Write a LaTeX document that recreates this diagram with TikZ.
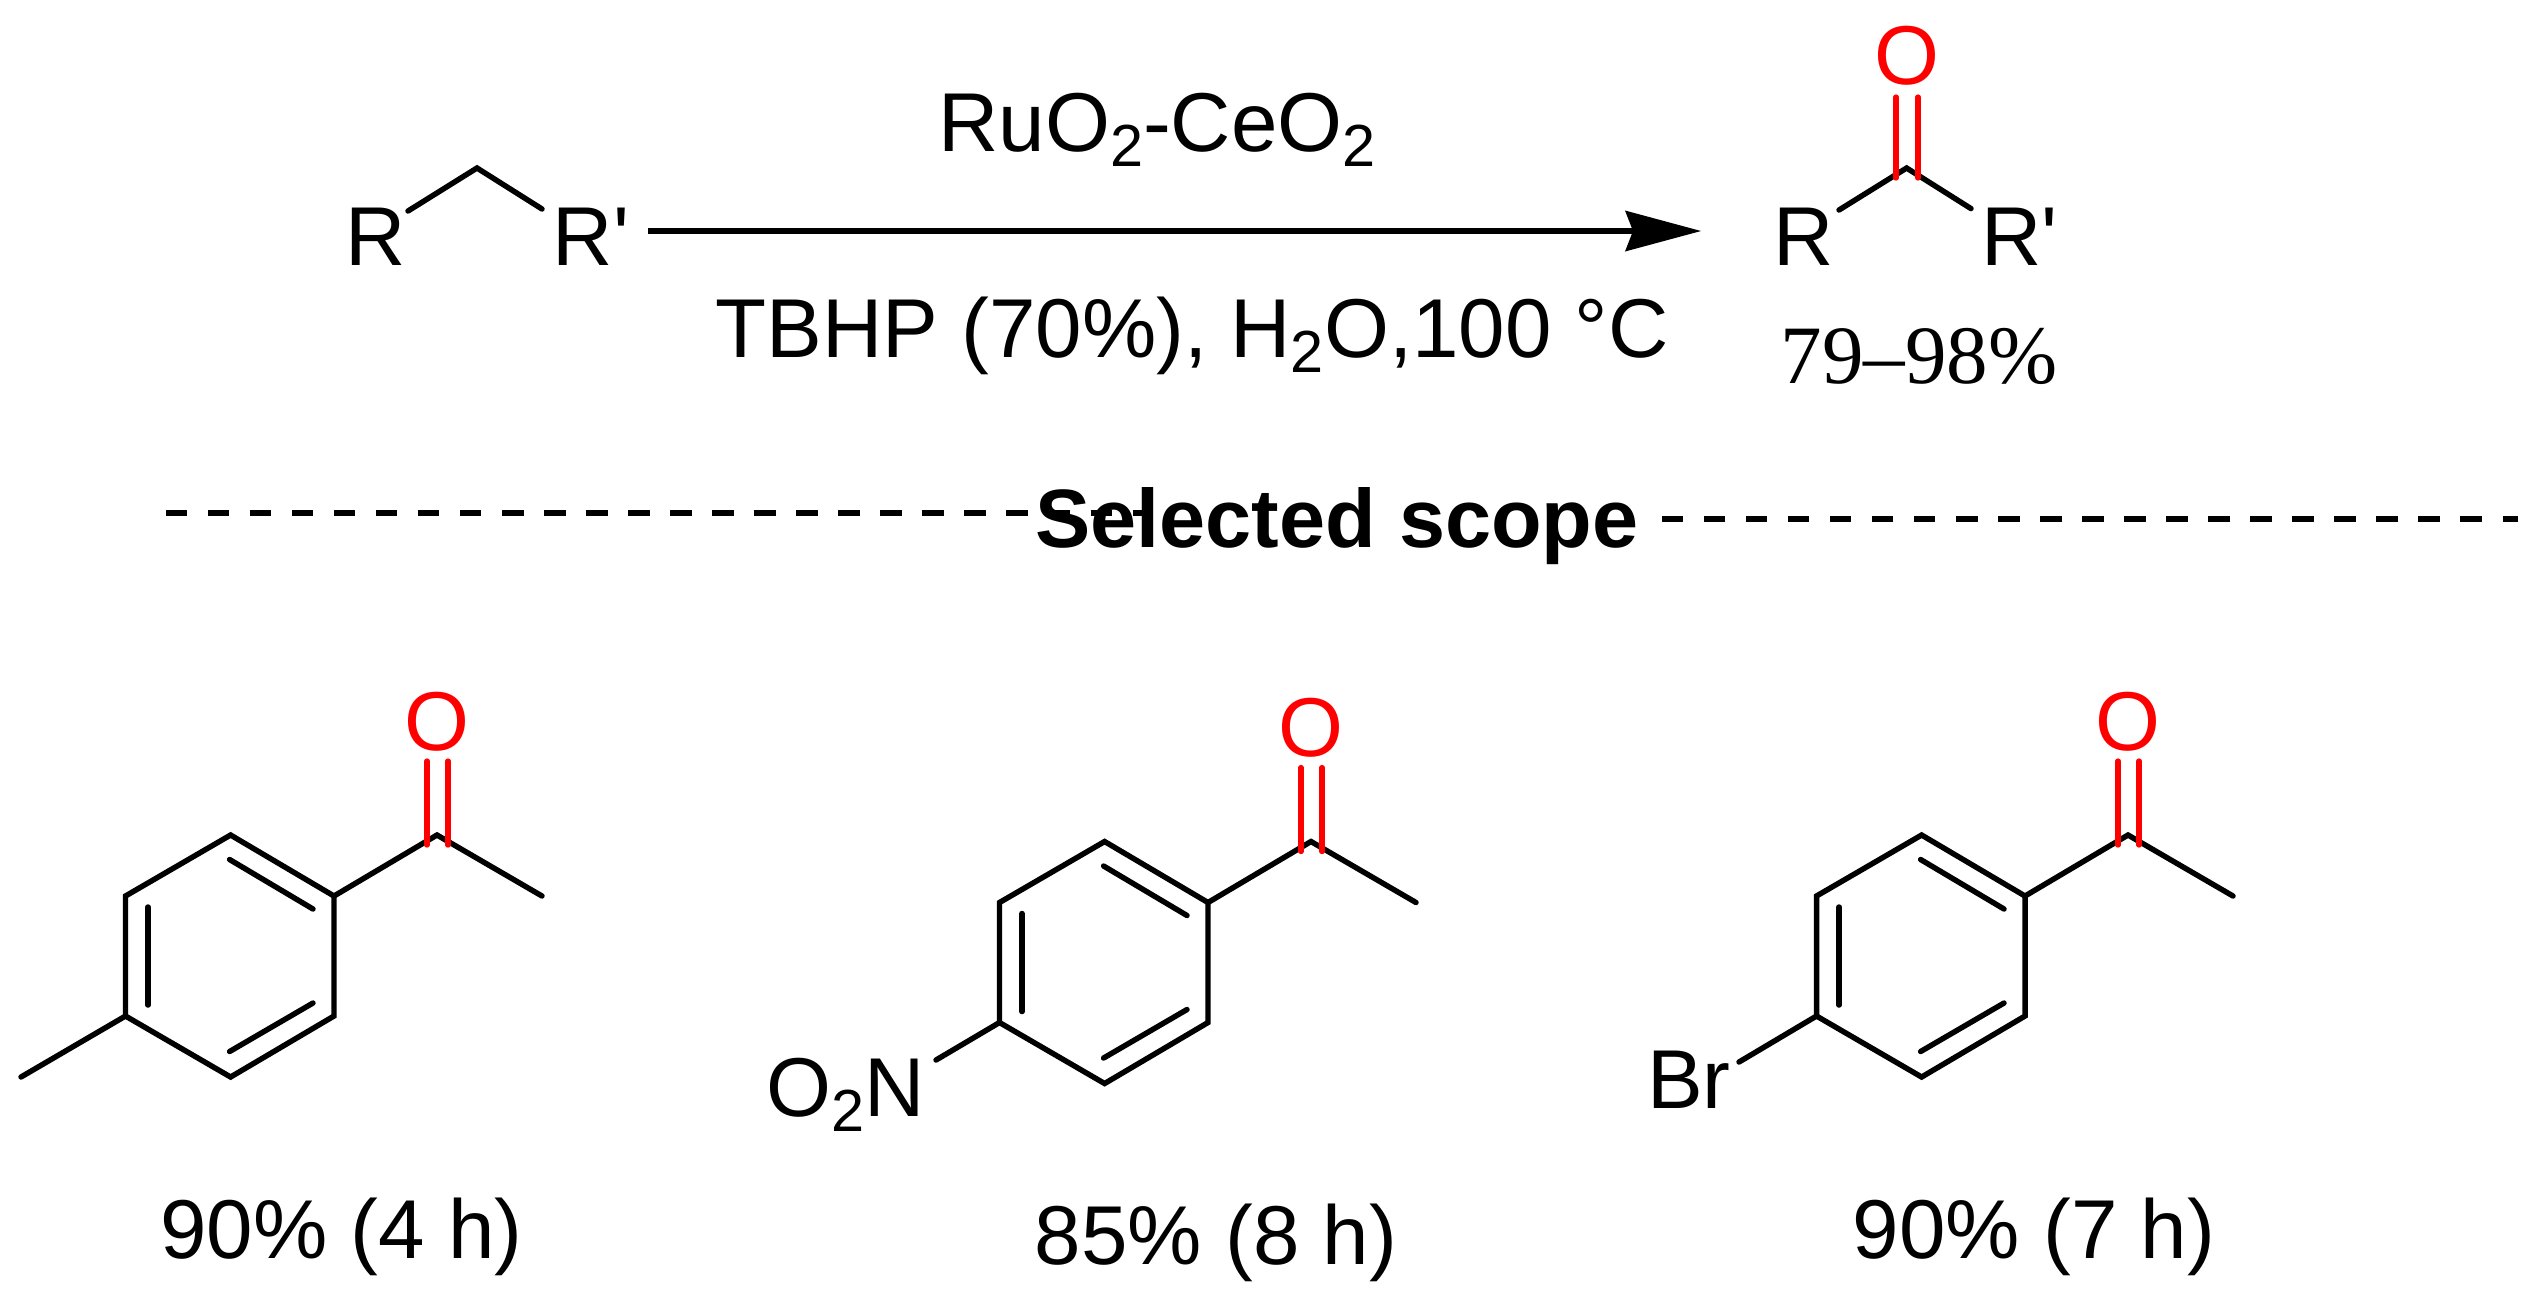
\documentclass[tikz,border=0pt]{standalone}
\usepackage{fontspec}
\setmainfont{Liberation Sans}
\newfontfamily\yieldfont{Liberation Serif}
\usetikzlibrary{arrows.meta}
\newcommand{\lowtwo}{\raisebox{-4.5pt}{\fontsize{16.9}{20}\selectfont 2}}
\tikzset{
	atom/.style={inner sep=0pt, outer sep=0pt, anchor=base, font=\fontsize{23.75}{28}\selectfont},
	bond/.style={line width=1.55pt, line cap=round, line join=miter},
	oxo/.style={line width=1.5pt, line cap=round, color=red},
	scopeline/.style={line width=1.7pt, dash pattern=on 6.06pt off 5.89pt},
	reaction/.style={line width=1.7pt, -{Stealth[length=0.76cm, width=0.41cm, inset=0.08cm, line width=0pt]}}
}
% one acetyl-aryl skeleton, #1 names it, (#2,#3) moves it
\newcommand{\acetyl}[3]{
	\begin{scope}[shift={(#2,#3)}]
		\coordinate (#1top) at (230.6,835);
		\coordinate (#1ul) at (125.5,896);
		\coordinate (#1ll) at (125.5,1016);
		\coordinate (#1bot) at (230.6,1077);
		\coordinate (#1lr) at (334,1016);
		\coordinate (#1ur) at (334,896);
		\coordinate (#1co) at (437,835);
		\coordinate (#1me) at (542,896);
		\draw[bond] (#1top) -- (#1ul) -- (#1ll) -- (#1bot) -- (#1lr) -- (#1ur) -- cycle;
		\draw[bond] (148,907) -- (148,1005);
		\draw[bond] (229.6,859.5) -- (313,909);
		\draw[bond] (229.6,1051.5) -- (313,1003);
		\draw[bond] (#1ur) -- (#1co) -- (#1me);
		\draw[oxo] (427,761) -- (427,845);
		\draw[oxo] (448,761) -- (448,845);
		\node[atom, red] (#1oxygen) at (437,750) {O};
	\end{scope}
}
\begin{document}
\begin{tikzpicture}[x=0.01cm, y=-0.01cm]
	\useasboundingbox (0,0) rectangle (2540,1302);
	% reaction line
	\coordinate (apexleft) at (477,168);
	\coordinate (bondleft) at (408,211);
	\coordinate (bondright) at (542,209);
	\node[atom] (reactR) at (376,265) {R};
	\node[atom] (reactRp) at (591,265) {R\textquotesingle};
	\draw[bond] (bondleft) -- (apexleft) -- (bondright);
	\coordinate (arrowstart) at (648,231);
	\coordinate (arrowend) at (1701,231);
	\draw[reaction] (arrowstart) -- (arrowend);
	\node[atom] (catalyst) at (1157,151) {RuO\lowtwo-CeO\lowtwo};
	\node[atom] (conditions) at (1192,357) {TBHP (70\%), H\lowtwo O,100 °C};
	\coordinate (apexprod) at (1906.6,168);
	\coordinate (prodleft) at (1839,210);
	\coordinate (prodright) at (1971,208.6);
	\node[atom] (prodR) at (1804,265) {R};
	\node[atom] (prodRp) at (2019.5,265) {R\textquotesingle};
	\draw[bond] (prodleft) -- (apexprod) -- (prodright);
	\draw[oxo] (1896,97) -- (1896,178);
	\draw[oxo] (1918,97) -- (1918,178);
	\node[atom, red] (prodoxygen) at (1907,84) {O};
	\node[atom, font=\fontsize{23.6}{28}\yieldfont] (prodyield) at (1919,383) {79–98\%};
	% divider
	\coordinate (dashleftA) at (166,512.7);
	\coordinate (dashleftB) at (1153,512.7);
	\coordinate (dashrightA) at (1662,518.7);
	\coordinate (dashrightB) at (2518,518.7);
	\draw[scopeline] (dashleftA) -- (dashleftB);
	\draw[scopeline] (dashrightA) -- (dashrightB);
	\node[atom, font=\fontsize{23.55}{28}\selectfont\bfseries] (scopetitle) at (1337,547) {Selected scope};
	% scope
	\acetyl{tolyl}{0}{0}
	\coordinate (tolylend) at (21,1077);
	\draw[bond] (tolylll) -- (tolylend);
	\node[atom] (tolylyield) at (341.5,1258) {90\% (4 h)};
	\acetyl{nitro}{874}{6.5}
	\coordinate (nitroend) at (936,1060);
	\draw[bond] (nitroll) -- (nitroend);
	\node[atom] (nitrogroup) at (845.5,1116) {O\lowtwo N};
	\node[atom] (nitroyield) at (1216,1264) {85\% (8 h)};
	\acetyl{bromo}{1691}{0}
	\coordinate (bromoend) at (1739,1062);
	\draw[bond] (bromoll) -- (bromoend);
	\node[atom] (bromine) at (1689,1108.5) {Br};
	\node[atom] (bromoyield) at (2034,1258) {90\% (7 h)};
\end{tikzpicture}
\end{document}
